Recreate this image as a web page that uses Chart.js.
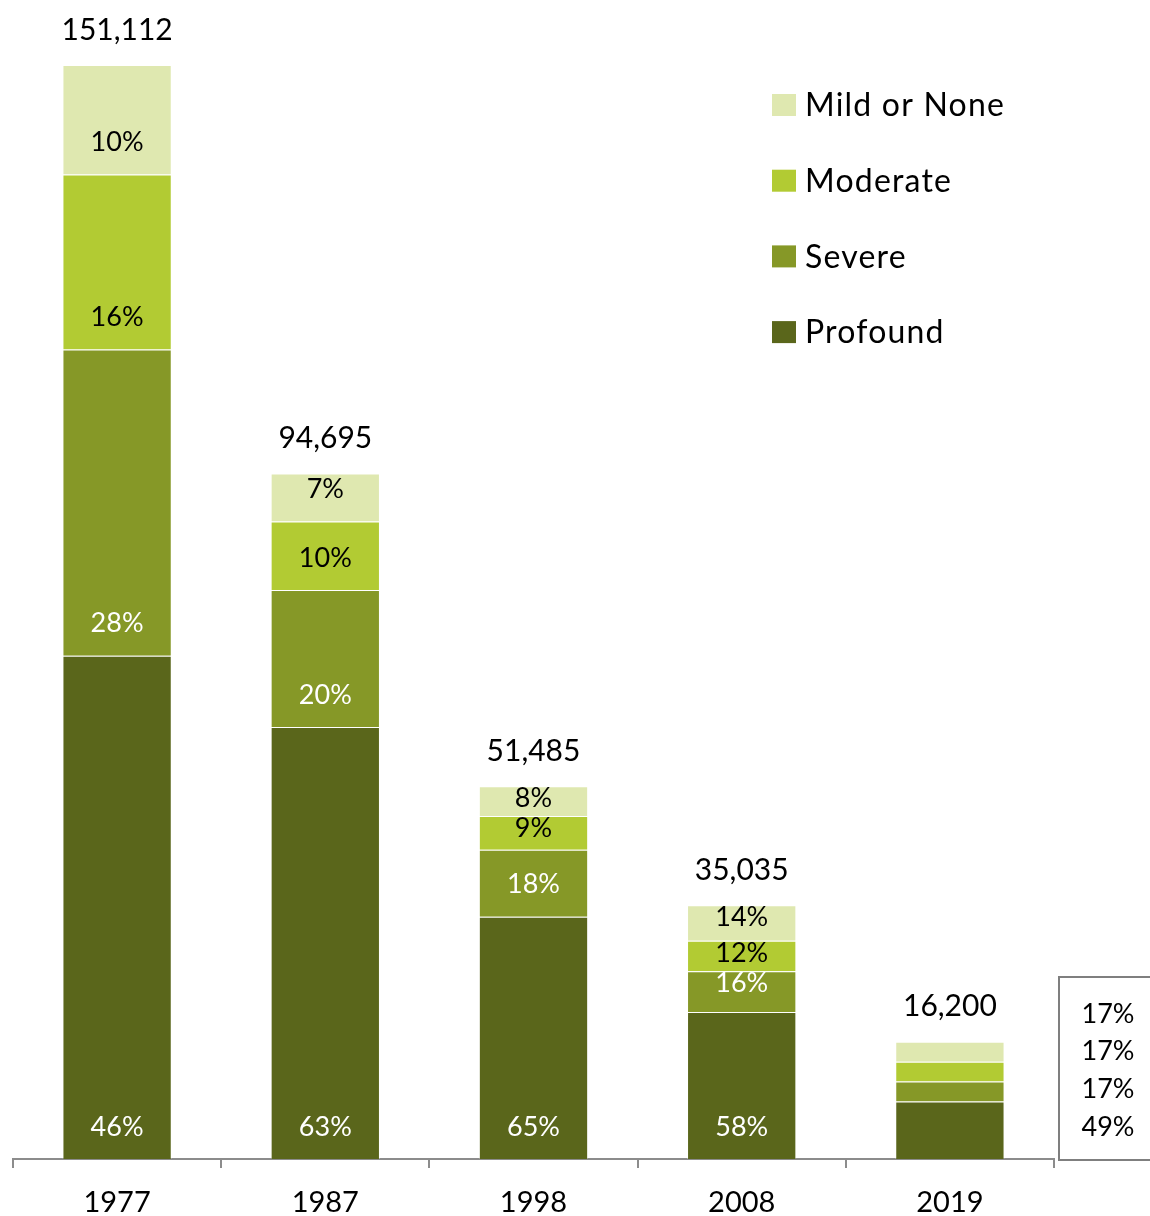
<!DOCTYPE html>
<html>
<head>
<meta charset="utf-8">
<script src="https://cdn.jsdelivr.net/npm/chart.js@4"></script>
<style>
  html, body { margin: 0; padding: 0; background: #fff; }
  #wrap { position: relative; width: 1150px; height: 1216px; }
</style>
</head>
<body>
<div id="wrap"><canvas id="chart"></canvas></div>
<script>
const years    = ['1977', '1987', '1998', '2008', '2019'];
const totals   = [151112, 94695, 51485, 35035, 16200];
const profound = [46, 63, 65, 58, 49];
const severe   = [28, 20, 18, 16, 17];
const moderate = [16, 10, 9, 12, 17];
const mild     = [10, 7, 8, 14, 17];

const FONT = 'Lato, "Open Sans", sans-serif';

const SERIES = [
  { label: 'Profound',     pct: profound, color: '#5a661b', text: '#fff' },
  { label: 'Severe',       pct: severe,   color: '#869827', text: '#fff' },
  { label: 'Moderate',     pct: moderate, color: '#b2cb33', text: '#000' },
  { label: 'Mild or None', pct: mild,     color: '#dfe8b0', text: '#000' },
];

// draws % labels, totals, the side box for the last year and the legend
const labelsPlugin = {
  id: 'labels',
  afterDatasetsDraw(chart) {
    const ctx = chart.ctx;
    const last = years.length - 1;
    ctx.save();
    ctx.textAlign = 'center';
    ctx.textBaseline = 'middle';

    chart.data.datasets.forEach((ds, di) => {
      const meta = chart.getDatasetMeta(di);
      meta.data.forEach((bar, i) => {
        if (i === last) return;
        const h = bar.base - bar.y;
        const off = Math.min(32, Math.max(h / 2, h - 12));
        ctx.font = '27px ' + FONT;
        ctx.fillStyle = SERIES[di].text;
        ctx.fillText(ds.pcts[i] + '%', bar.x, bar.base - off);
      });
    });

    // totals above the bars
    const topMeta = chart.getDatasetMeta(chart.data.datasets.length - 1);
    topMeta.data.forEach((bar, i) => {
      ctx.font = '30px ' + FONT;
      ctx.fillStyle = '#000';
      ctx.fillText(totals[i].toLocaleString('en-US'), bar.x, bar.y - 35);
    });

    // box with the last year's shares
    const area = chart.chartArea;
    const bx = area.right + 5, by = 977, bw = 110, bh = area.bottom - by + 1;
    ctx.strokeStyle = '#7f7f7f';
    ctx.lineWidth = 2;
    ctx.strokeRect(bx, by, bw, bh);
    ctx.font = '27px ' + FONT;
    ctx.fillStyle = '#000';
    const order = chart.data.datasets.slice().reverse();
    order.forEach((ds, k) => {
      ctx.fillText(ds.pcts[last] + '%', bx + 49, 1014 + k * 37.7);
    });

    // legend
    ctx.textAlign = 'left';
    order.forEach((ds, k) => {
      const cy = 105 + k * 75.7;
      ctx.fillStyle = ds.backgroundColor;
      ctx.fillRect(772, cy - 11, 24, 22);
      ctx.font = '32px ' + FONT;
      ctx.letterSpacing = '1.2px';
      ctx.fillStyle = '#000';
      ctx.fillText(ds.label, 805, cy + 1);
      ctx.letterSpacing = '0px';
    });
    ctx.restore();
  },
};

new Chart(document.getElementById('chart'), {
  type: 'bar',
  data: {
    labels: years,
    datasets: SERIES.map(s => ({
      label: s.label,
      pcts: s.pct,
      data: totals.map((t, i) => t * s.pct[i] / 100),
      backgroundColor: s.color,
      borderColor: 'rgba(255,255,255,0.35)',
      borderWidth: 1,
      categoryPercentage: 1,
      barPercentage: 0.525,
    })),
  },
  options: {
    responsive: true,
    maintainAspectRatio: false,
    animation: false,
    layout: { padding: { left: 13, right: 96, top: 65, bottom: 0 } },
    plugins: {
      legend: { display: false },
      tooltip: { enabled: false },
    },
    scales: {
      x: {
        stacked: true,
        afterFit(scale) { scale.height = 57; },
        grid: {
          display: true,
          drawOnChartArea: false,
          drawTicks: true,
          tickLength: 9,
          color: '#8c8c8c',
          lineWidth: 2,
        },
        border: { display: true, color: '#8c8c8c', width: 2 },
        ticks: {
          color: '#000',
          padding: 17,
          font: { family: FONT, size: 29 },
        },
      },
      y: {
        stacked: true,
        display: false,
        min: 0,
        max: 151112,
      },
    },
  },
  plugins: [labelsPlugin],
});
</script>
</body>
</html>
